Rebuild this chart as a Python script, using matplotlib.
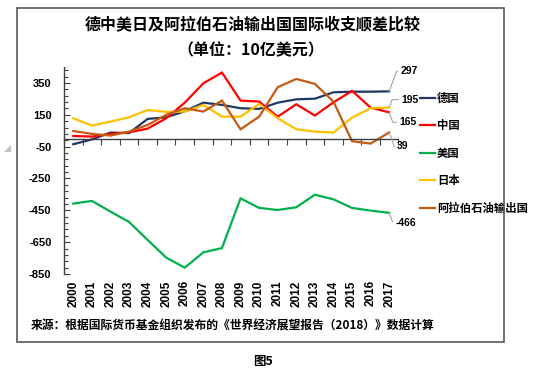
import matplotlib
matplotlib.use("Agg")
import matplotlib.pyplot as plt
import numpy as np
from matplotlib.patches import Rectangle, Polygon

plt.rcParams['font.family'] = ['Noto Sans CJK SC', 'DejaVu Sans']

years = [str(y) for y in range(2000, 2018)]
series_names = ['德国', '中国', '美国', '日本', '阿拉伯石油输出国']
germany = [-35, -5, 38, 35, 124, 134, 172, 226, 212, 191, 187, 226, 247, 251, 291, 295, 295, 297]
china = [17, 13, 30, 40, 63, 128, 226, 348, 415, 239, 233, 138, 216, 145, 228, 300, 195, 165]
usa = [-408, -391, -458, -523, -636, -747, -810, -714, -687, -375, -435, -448, -431, -352, -381, -435, -452, -466]
japan = [128, 82, 107, 134, 180, 168, 170, 212, 138, 138, 218, 128, 59, 44, 38, 132, 191, 195]
arab = [48, 30, 19, 44, 86, 150, 191, 170, 239, 59, 138, 323, 375, 344, 233, -16, -31, 39]
y_ticks = [350, 150, -50, -250, -450, -650, -850]

colors = ['#1F3864', '#FF0000', '#00B050', '#FFC000', '#C55A11']
data = [germany, china, usa, japan, arab]

W, H = 550, 372
fig = plt.figure(figsize=(W / 100, H / 100), dpi=100)

def fx(px):
    return px / W

def fy(py):
    return 1 - py / H

ax = fig.add_axes([fx(64), fy(274), fx(398.5) - fx(64), fy(67) - fy(274)])
x = np.arange(len(years))
for vals, c, name in zip(data, colors, series_names):
    ax.plot(x, vals, color=c, lw=1.6, label=name, solid_joinstyle='miter')

ax.set_xlim(-0.5, len(years) - 0.5)
ax.set_ylim(-850, 450)

for s in ['top', 'right']:
    ax.spines[s].set_visible(False)
ax.spines['bottom'].set_position(('data', 0))
ax.spines['left'].set_color('#404040')
ax.spines['bottom'].set_color('#404040')
ax.spines['left'].set_linewidth(1.0)
ax.spines['bottom'].set_linewidth(1.0)

# y axis
ax.set_yticks(y_ticks)
ax.set_yticklabels([str(v) for v in y_ticks], fontfamily='Liberation Sans',
                   fontweight='bold', fontsize=8)
ax.set_yticks(np.arange(-850, 451, 40), minor=True)
ax.tick_params(axis='y', which='major', direction='in', length=4, width=0.8,
               color='#404040', pad=9)
ax.tick_params(axis='y', which='minor', direction='in', length=3, width=0.8,
               color='#404040')

# x axis: ticks between categories on zero line, labels at bottom
ax.set_xticks(x)
ax.set_xticklabels(years, rotation=90, fontfamily='Liberation Sans',
                   fontweight='bold', fontsize=8.5, va='top', ha='center')
ax.set_xticks(np.arange(len(years) + 1) - 0.5, minor=True)
ax.tick_params(axis='x', which='major', length=0, pad=102)
ax.tick_params(axis='x', which='minor', direction='out', length=4, width=0.8,
               color='#404040')

# end labels with leader lines
offsets = {0: (11, 20), 3: (12, 8), 1: (10, -10), 4: (8, -14), 2: (6, -10)}
for i, (dx, dy) in offsets.items():
    v = data[i][-1]
    angB = 70 if dy > 0 else 110
    ax.annotate(str(v), xy=(x[-1], v), xytext=(dx, dy), textcoords='offset pixels',
                fontfamily='Liberation Sans', fontweight='bold', fontsize=7.5,
                ha='left', va='center', color='black',
                arrowprops=dict(arrowstyle='-', color='#A6A6A6', lw=0.8,
                                shrinkA=0, shrinkB=0,
                                connectionstyle=f'angle,angleA=0,angleB={angB},rad=0'))

# legend
leg = ax.legend(loc='upper left', bbox_to_anchor=(fx(420), fy(92)),
                bbox_transform=fig.transFigure, frameon=False,
                handlelength=1.3, handletextpad=0.2, labelspacing=1.27,
                borderpad=0, borderaxespad=0,
                prop={'family': ['Noto Sans CJK SC', 'DejaVu Sans'],
                      'weight': 'bold', 'size': 8.2})

# titles
fig.text(fx(253), fy(24), '德中美日及阿拉伯石油输出国国际收支顺差比较',
         ha='center', va='center', fontsize=11.5, fontweight='bold')
fig.text(fx(251), fy(50), '（单位：10亿美元）', ha='center', va='center',
         fontsize=11.5, fontweight='bold')
fig.text(fx(31), fy(326), '来源：根据国际货币基金组织发布的《世界经济展望报告（2018）》数据计算',
         ha='left', va='center', fontsize=8.5, fontweight='bold')
fig.text(fx(263), fy(362), '图5', ha='center', va='center', fontsize=9,
         fontweight='bold')

# outer frame
fig.patches.append(Rectangle((fx(17), fy(342)), fx(504) - fx(17), fy(8) - fy(342),
                             transform=fig.transFigure, fill=False,
                             edgecolor='#595959', lw=1.2))
fig.patches.append(Polygon([[fx(4), fy(152)], [fx(11), fy(152)], [fx(11), fy(145)]],
                           closed=True, transform=fig.transFigure,
                           facecolor='#BFBFBF', edgecolor='none'))

fig.savefig('out.png', dpi=100)
